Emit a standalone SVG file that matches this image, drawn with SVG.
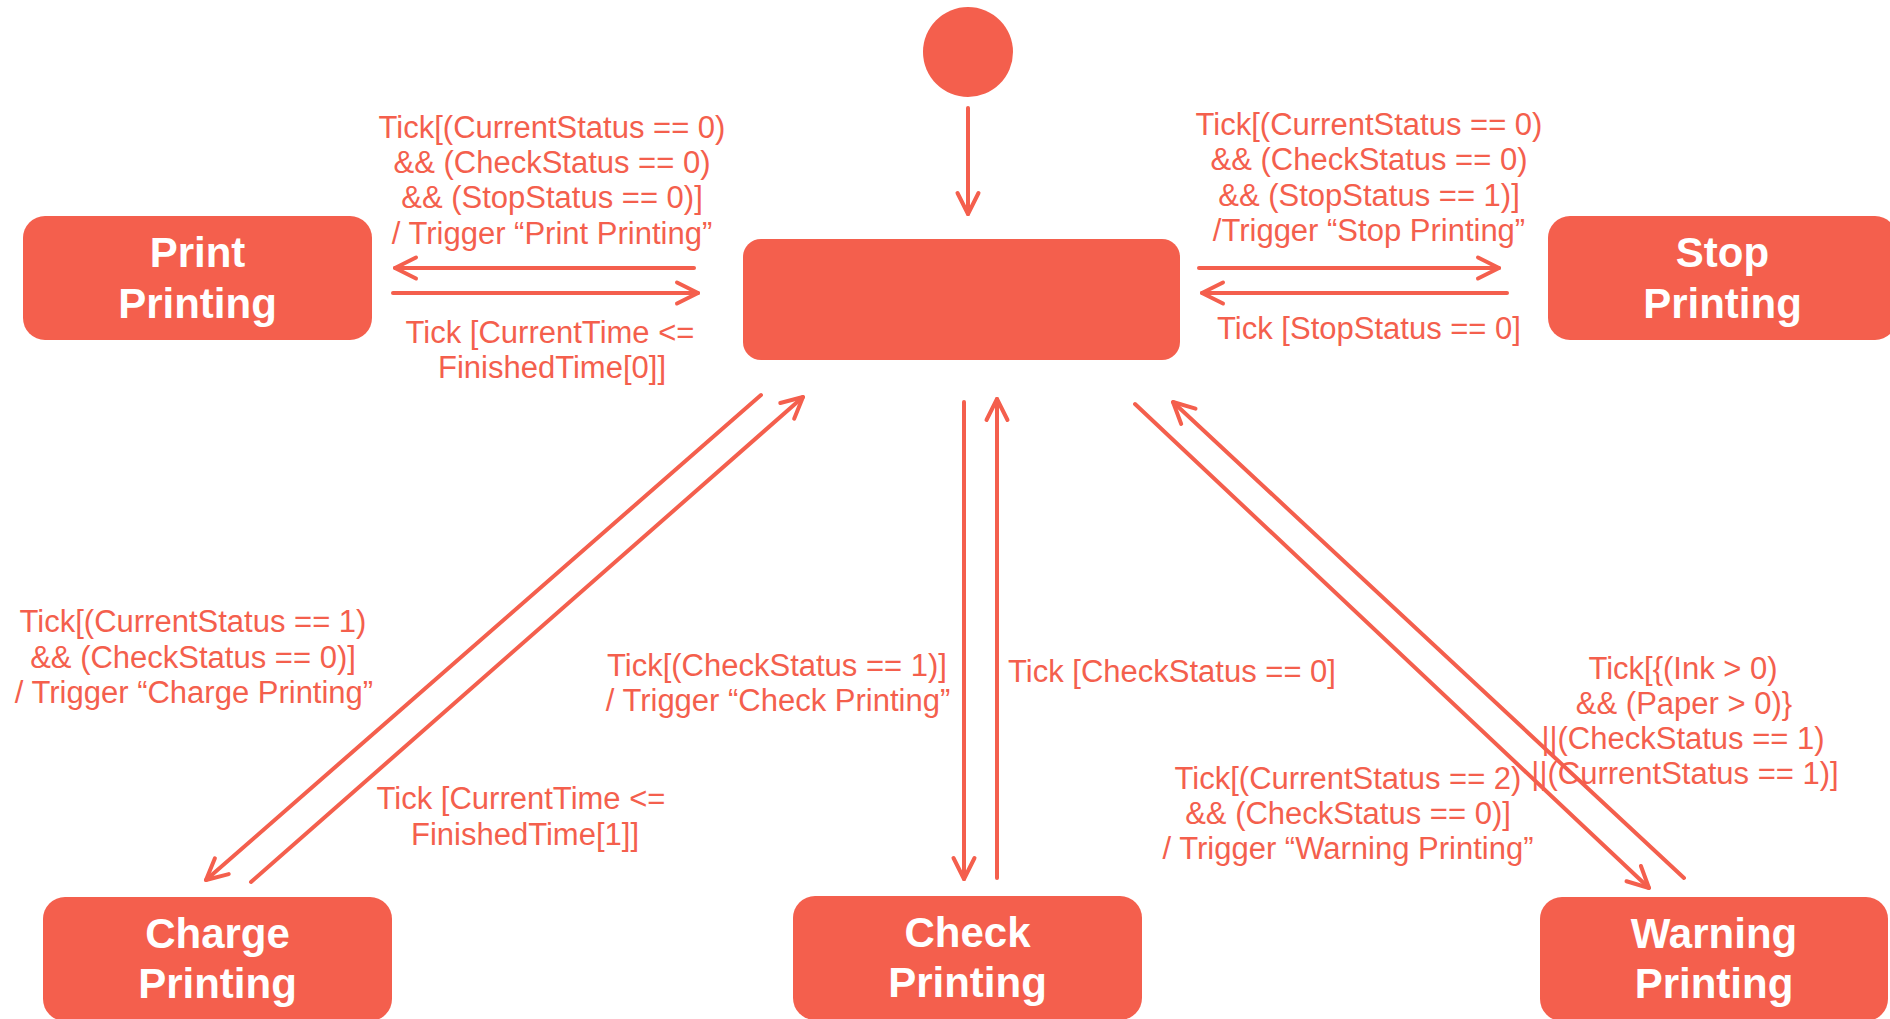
<svg xmlns="http://www.w3.org/2000/svg" width="1890" height="1019" viewBox="0 0 1890 1019">
<defs>
<style>
.node{fill:#F45F4D}
.nt{font-family:"Liberation Sans",Arial,sans-serif;font-weight:bold;font-size:42px;fill:#FFFFFF;text-anchor:middle}
.lbl{font-family:"Liberation Sans",Arial,sans-serif;font-size:31px;fill:#F45F4D;text-anchor:middle}
.edge{stroke:#F45F4D;stroke-width:4;fill:none;stroke-linecap:round}
</style>
<marker id="arr" markerUnits="userSpaceOnUse" viewBox="-26 -14 30 28" refX="0" refY="0" markerWidth="30" markerHeight="28" orient="auto">
<path d="M-21,-10.5 L0,0 L-21,10.5" fill="none" stroke="#F45F4D" stroke-width="4" stroke-linecap="round" stroke-linejoin="round"/>
</marker>
</defs>
<rect width="1890" height="1019" fill="#FFFFFF"/>

<g id="connectors">
<line class="edge" x1="968" y1="108" x2="968" y2="214" marker-end="url(#arr)"/>
<line class="edge" x1="694" y1="268" x2="395" y2="268" marker-end="url(#arr)"/>
<line class="edge" x1="393" y1="293" x2="698" y2="293" marker-end="url(#arr)"/>
<line class="edge" x1="1199" y1="268" x2="1499" y2="268" marker-end="url(#arr)"/>
<line class="edge" x1="1507" y1="293" x2="1202" y2="293" marker-end="url(#arr)"/>
<line class="edge" x1="761" y1="395" x2="206" y2="880" marker-end="url(#arr)"/>
<line class="edge" x1="251" y1="882" x2="803" y2="397" marker-end="url(#arr)"/>
<line class="edge" x1="964" y1="402" x2="964" y2="879" marker-end="url(#arr)"/>
<line class="edge" x1="997" y1="878" x2="997" y2="399" marker-end="url(#arr)"/>
<line class="edge" x1="1135" y1="404" x2="1649" y2="888" marker-end="url(#arr)"/>
<line class="edge" x1="1684" y1="878" x2="1173" y2="402" marker-end="url(#arr)"/>
</g>

<g id="labels">
<text class="lbl"><tspan x="552" y="138">Tick[(CurrentStatus == 0)</tspan><tspan x="552" y="173">&amp;&amp; (CheckStatus == 0)</tspan><tspan x="552" y="208">&amp;&amp; (StopStatus == 0)]</tspan><tspan x="552" y="244">/ Trigger “Print Printing”</tspan></text>
<text class="lbl"><tspan x="550" y="343">Tick [CurrentTime &lt;=</tspan><tspan x="552" y="378">FinishedTime[0]]</tspan></text>
<text class="lbl"><tspan x="1369" y="135">Tick[(CurrentStatus == 0)</tspan><tspan x="1369" y="170">&amp;&amp; (CheckStatus == 0)</tspan><tspan x="1369" y="206">&amp;&amp; (StopStatus == 1)]</tspan><tspan x="1369" y="241">/Trigger “Stop Printing”</tspan></text>
<text class="lbl" x="1369" y="339">Tick [StopStatus == 0]</text>
<text class="lbl"><tspan x="193" y="632">Tick[(CurrentStatus == 1)</tspan><tspan x="193" y="668">&amp;&amp; (CheckStatus == 0)]</tspan><tspan x="194" y="703">/ Trigger “Charge Printing”</tspan></text>
<text class="lbl"><tspan x="521" y="809">Tick [CurrentTime &lt;=</tspan><tspan x="525" y="845">FinishedTime[1]]</tspan></text>
<text class="lbl"><tspan x="777" y="676">Tick[(CheckStatus == 1)]</tspan><tspan x="778" y="711">/ Trigger “Check Printing”</tspan></text>
<text class="lbl" x="1172" y="682">Tick [CheckStatus == 0]</text>
<text class="lbl"><tspan x="1348" y="789">Tick[(CurrentStatus == 2)</tspan><tspan x="1348" y="824">&amp;&amp; (CheckStatus == 0)]</tspan><tspan x="1348" y="859">/ Trigger “Warning Printing”</tspan></text>
<text class="lbl"><tspan x="1683" y="679">Tick[{(Ink &gt; 0)</tspan><tspan x="1684" y="714">&amp;&amp; (Paper &gt; 0)}</tspan><tspan x="1683" y="749">||(CheckStatus == 1)</tspan><tspan x="1685" y="784">||(CurrentStatus == 1)]</tspan></text>
</g>

<g id="start"><circle class="node" cx="968" cy="52" r="45"/></g>
<g id="main"><rect class="node" x="743" y="239" width="437" height="121" rx="18"/></g>
<g id="print"><rect class="node" x="23" y="216" width="349" height="124" rx="22"/><text class="nt"><tspan x="197.5" y="267">Print</tspan><tspan x="197.5" y="318">Printing</tspan></text></g>
<g id="stop"><rect class="node" x="1548" y="216" width="349" height="124" rx="22"/><text class="nt"><tspan x="1722.5" y="267">Stop</tspan><tspan x="1722.5" y="318">Printing</tspan></text></g>
<g id="charge"><rect class="node" x="43" y="897" width="349" height="124" rx="22"/><text class="nt"><tspan x="217.5" y="948">Charge</tspan><tspan x="217.5" y="998">Printing</tspan></text></g>
<g id="check"><rect class="node" x="793" y="896" width="349" height="124" rx="22"/><text class="nt"><tspan x="967.5" y="947">Check</tspan><tspan x="967.5" y="997">Printing</tspan></text></g>
<g id="warning"><rect class="node" x="1540" y="897" width="348" height="124" rx="22"/><text class="nt"><tspan x="1714" y="948">Warning</tspan><tspan x="1714" y="998">Printing</tspan></text></g>
</svg>
